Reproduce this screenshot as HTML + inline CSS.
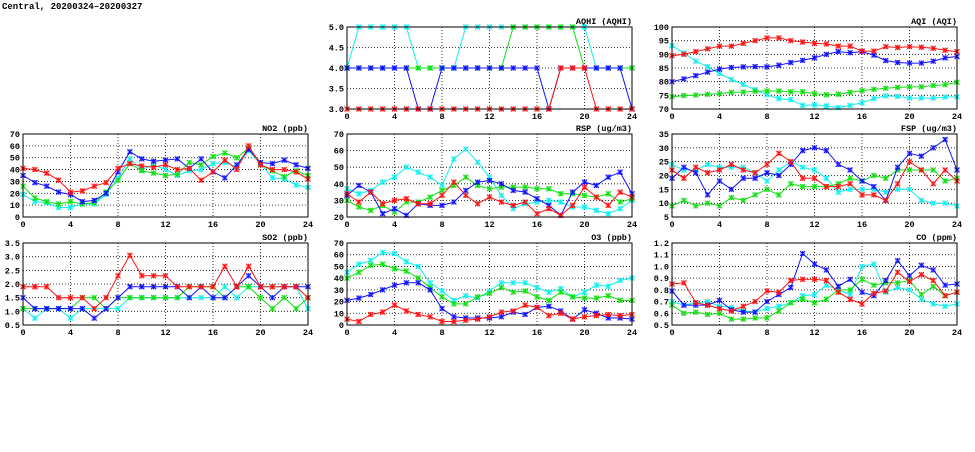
<!DOCTYPE html>
<html><head><meta charset="utf-8"><style>
body{margin:0;background:#fff;width:975px;height:447px;overflow:hidden}
svg text{font-family:"Liberation Mono",monospace;font-weight:bold;font-size:8.5px;fill:#000}
</style></head><body>
<svg id="s" width="975" height="447" xmlns="http://www.w3.org/2000/svg">
<text x="2" y="9" style="font-size:9px">Central, 20200324–20200327</text>
</svg>
<script>
var cols=[[23,308],[347,632],[672,957]], rows=[[27,109],[134,217],[243,325]];
var C={r:"#ff1010",b:"#1010ff",g:"#10e010",c:"#10eeee"};
var P=[
{c:1,r:0,t:"AQHI (AQHI)",min:3,max:5,step:0.5,dec:1,d:{
c:[4,5,5,5,5,5,4,4,4,4,5,5,5,5,5,5,5,5,5,5,5,4,4,4,4],
g:[4,4,4,4,4,4,4,4,4,4,4,4,4,4,5,5,5,5,5,5,4,4,4,4,4],
b:[4,4,4,4,4,4,3,3,4,4,4,4,4,4,4,4,4,3,4,4,4,4,4,4,3],
r:[3,3,3,3,3,3,3,3,3,3,3,3,3,3,3,3,3,3,4,4,4,3,3,3,3]}},
{c:2,r:0,t:"AQI (AQI)",min:70,max:100,step:5,dec:0,d:{
c:[93.2,90.5,87.5,85.5,83,80.8,79,77.1,75.2,73.8,73.4,71.3,71.5,71.1,70.5,71.3,72.3,73.8,74.8,74.6,74,74,74,74.4,74.4],
g:[74.5,74.9,75.1,75.4,75.6,76.1,76.2,76.5,76.6,76.6,76.3,76.3,75.6,75.2,75.4,76.1,76.7,77.2,77.6,77.9,78.1,78.1,78.6,78.9,79.8],
b:[80,81,82.2,83.5,84.6,85.2,85.4,85.5,85.4,86,87,87.8,88.7,90,91,90.6,91,89.7,87.7,87,86.8,86.8,87.5,88.7,89.2],
r:[89.5,90,91,92,93,93,94,95,96,96,95,94.5,94,93.8,93,93,91.2,91.2,92.8,92.5,92.8,92.6,92.2,91.5,91]}},
{c:0,r:1,t:"NO2 (ppb)",min:0,max:70,step:10,dec:0,d:{
c:[19,13,12,8,8,11,11,19,33,49,40,44,40,35,39,40,45,46,42,56,45,33,32,27,25],
g:[26,16,13,11,13,11,12,21,31,45,39,37,35,36,46,44,51,54,50,58,44,39,34,39,35],
b:[35,29,26,21,19,13,14,20,38,55,49,47,48,49,41,49,38,33,44,57,46,45,48,44,41],
r:[41,40,37,31,21,22,26,29,41,45,43,42,44,40,41,31,38,48,40,60,44,40,40,38,32]}},
{c:1,r:1,t:"RSP (ug/m3)",min:20,max:70,step:10,dec:0,d:{
c:[37,34,36,41,44,50,47,44,39,55,61,53,44,33,25,28,29,30,29,26,26,24,22,25,30],
g:[30,26,24,27,23,29,29,32,36,39,44,39,37,38,38,38,37,37,34,34,33,32,34,29,31],
b:[33,39,35,22,25,21,28,27,27,29,36,41,42,40,36,35,31,27,21,35,41,39,44,47,34],
r:[34,29,35,28,30,31,28,28,33,41,33,28,32,29,27,29,22,25,21,27,38,32,27,35,32]}},
{c:2,r:1,t:"FSP (ug/m3)",min:5,max:35,step:5,dec:0,d:{
c:[24,22,22,24,23,23,23,21,18,22,25,23,22,19,14,15,15,15,14,15,15,11,10,10,9],
g:[9,11,9,10,9,12,11,13,15,13,17,16,16,16,17,19,18,20,19,22,22,22,22,18,19],
b:[19,23,21,13,18,15,19,19,21,20,24,29,30,29,24,22,18,16,11,23,28,27,30,33,22],
r:[22,19,23,21,22,24,22,21,24,28,25,19,19,16,16,17,13,13,11,17,25,22,17,22,18]}},
{c:0,r:2,t:"SO2 (ppb)",min:0.5,max:3.5,step:0.5,dec:1,d:{
c:[1.1,0.75,1.1,1.1,0.75,1.1,1.1,1.1,1.1,1.5,1.5,1.5,1.5,1.5,1.5,1.5,1.5,1.9,1.5,1.9,1.9,1.9,1.9,1.9,1.1],
g:[1.1,1.1,1.1,1.1,1.1,1.5,1.5,1.1,1.5,1.5,1.5,1.5,1.5,1.5,1.9,1.9,1.9,1.5,1.9,1.9,1.5,1.1,1.5,1.1,1.5],
b:[1.5,1.1,1.1,1.1,1.1,1.1,0.75,1.1,1.5,1.9,1.9,1.9,1.9,1.9,1.5,1.9,1.5,1.5,1.9,2.3,1.9,1.5,1.9,1.9,1.9],
r:[1.9,1.9,1.9,1.5,1.5,1.5,1.1,1.5,2.3,3.05,2.3,2.3,2.3,1.9,1.9,1.9,1.9,2.65,1.9,2.65,1.9,1.9,1.9,1.9,1.5]}},
{c:1,r:2,t:"O3 (ppb)",min:0,max:70,step:10,dec:0,d:{
c:[45,52,55,62,61,54,50,36,29,21,25,23,29,36,36,36,32,28,31,24,28,34,33,38,40],
g:[40,45,51,52,48,46,40,32,24,18,18,24,27,32,28,29,24,21,28,24,23,23,25,21,21],
b:[21,23,26,30,34,36,36,30,14,7,6,6,6,7,11,9,15,16,12,5,13,10,6,6,5],
r:[5,3,9,11,17,12,9,7,3,3,4,5,7,11,12,17,15,8,10,5,7,8,9,8,9]}},
{c:2,r:2,t:"CO (ppm)",min:0.5,max:1.2,step:0.1,dec:1,d:{
c:[.70,.67,.69,.70,.66,.65,.62,.61,.64,.66,.69,.75,.76,.84,.80,.76,1.00,1.02,.78,.82,.80,.72,.68,.66,.68],
g:[.67,.60,.61,.59,.60,.55,.55,.56,.56,.62,.69,.72,.69,.72,.80,.80,.89,.84,.86,.86,.88,.76,.83,.75,.78],
b:[.79,.67,.67,.67,.71,.63,.61,.61,.70,.76,.82,1.11,1.02,.97,.83,.89,.78,.75,.88,1.05,.92,1.01,.97,.84,.85],
r:[.85,.86,.69,.67,.64,.62,.66,.70,.79,.78,.88,.89,.89,.88,.78,.72,.68,.77,.79,.95,.87,.93,.88,.75,.78]}}
];
var h="";
P.forEach(function(p){
 var x0=cols[p.c][0],x1=cols[p.c][1],y0=rows[p.r][0],y1=rows[p.r][1];
 var X=function(i){return x0+(x1-x0)*i/24},Y=function(v){return y1-(y1-y0)*(v-p.min)/(p.max-p.min)};
 var n=Math.round((p.max-p.min)/p.step);
 for(var k=0;k<=n;k++){var v=p.min+k*p.step,y=Y(v);
  if(k>0&&k<n)h+='<line x1="'+x0+'" x2="'+x1+'" y1="'+y+'" y2="'+y+'" stroke="#000" stroke-width="0.8" stroke-dasharray="1,2"/>';
  h+='<text x="'+(x0-3)+'" y="'+(y+3)+'" text-anchor="end">'+v.toFixed(p.dec)+'</text>';}
 for(var i=0;i<=24;i+=4){var x=X(i);
  if(i>0&&i<24)h+='<line x1="'+x+'" x2="'+x+'" y1="'+y0+'" y2="'+y1+'" stroke="#000" stroke-width="0.8" stroke-dasharray="1,2"/>';
  h+='<text x="'+x+'" y="'+(y1+10)+'" text-anchor="middle">'+i+'</text>';}
 h+='<text x="'+x1+'" y="'+(y0-3)+'" text-anchor="end">'+p.t+'</text>';
 ["c","g","b","r"].forEach(function(s){var a=p.d[s],col=C[s],pts=a.map(function(v,i){return X(i).toFixed(1)+","+Y(v).toFixed(1)}).join(" ");
  h+='<polyline points="'+pts+'" fill="none" stroke="'+col+'" stroke-width="1"/>';
  a.forEach(function(v,i){var x=X(i),y=Y(v),m=2.5;
   h+='<rect x="'+(x-m)+'" y="'+(y-m)+'" width="'+2*m+'" height="'+2*m+'" fill="'+col+'" opacity="0.35"/>';
   h+='<path d="M'+(x-m)+' '+(y-m)+'L'+(x+m)+' '+(y+m)+'M'+(x-m)+' '+(y+m)+'L'+(x+m)+' '+(y-m)+'M'+x+' '+(y-m)+'V'+(y+m)+'" stroke="'+col+'" stroke-width="1"/>';});
 });
 h+='<rect x="'+x0+'" y="'+y0+'" width="'+(x1-x0)+'" height="'+(y1-y0)+'" fill="none" stroke="#000" stroke-width="1"/>';
});
document.getElementById("s").insertAdjacentHTML("beforeend",h);
</script>
</body></html>
